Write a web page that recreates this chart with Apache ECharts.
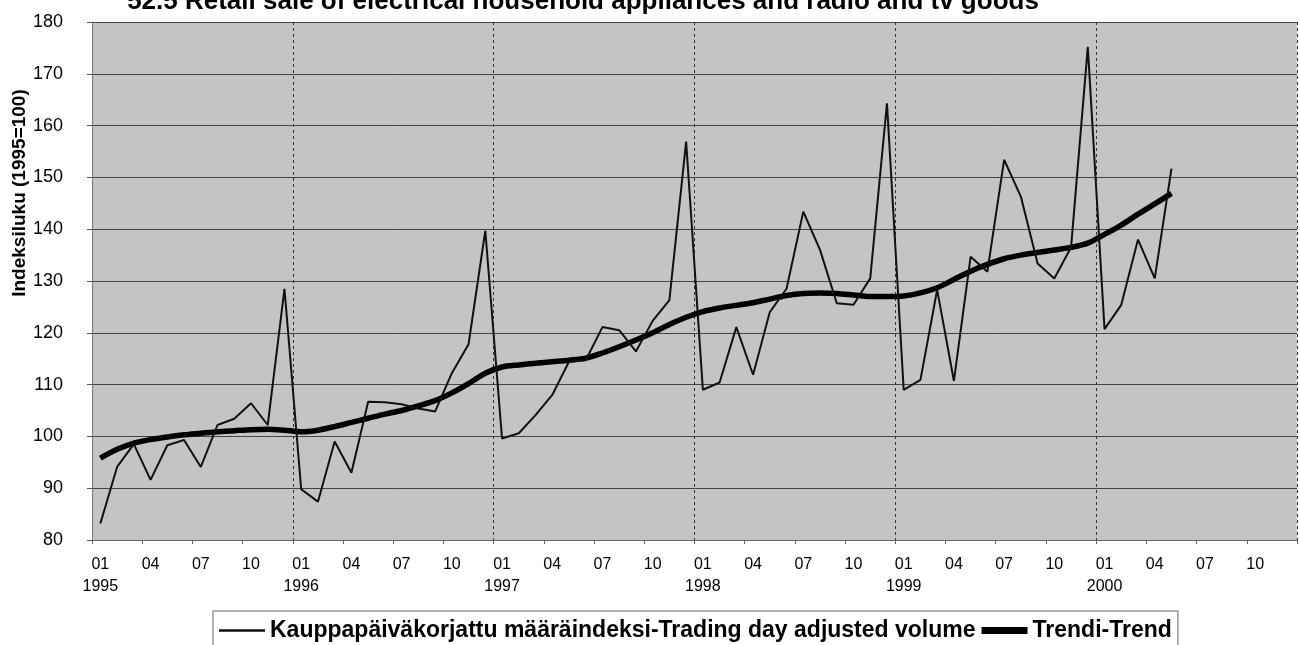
<!DOCTYPE html>
<html>
<head>
<meta charset="utf-8">
<script src="https://cdn.jsdelivr.net/npm/echarts@6/dist/echarts.min.js"></script>
<style>
html,body{margin:0;padding:0;background:#fff;}
#chart{width:1300px;height:645px;}
</style>
</head>
<body>
<div id="chart"></div>
<script>
// Months 1995-01 .. 2000-12
var years = [1995, 1996, 1997, 1998, 1999, 2000];
var monthLabels = ['01','02','03','04','05','06','07','08','09','10','11','12'];

// Trading day adjusted volume index (1995=100)
var volume = [
  83.2, 94.1, 98.5, 91.6, 98.3, 99.3, 94.1, 102.2, 103.4, 106.4, 102.2, 128.5,
  89.8, 87.4, 99.0, 93.0, 106.7, 106.6, 106.2, 105.4, 104.8, 112.2, 117.8, 139.7,
  99.6, 100.6, 104.1, 108.0, 114.4, 114.7, 121.1, 120.5, 116.4, 122.3, 126.3, 156.9,
  109.0, 110.4, 121.1, 111.9, 124.0, 128.5, 143.4, 136.0, 125.7, 125.4, 130.5, 164.3,
  109.0, 110.9, 128.3, 110.7, 134.7, 131.8, 153.4, 146.3, 133.4, 130.5, 136.5, 175.2,
  120.7, 125.4, 138.0, 130.5, 151.7
];

// Trend
var trend = [
  95.8, 97.5, 98.7, 99.4, 99.9, 100.3, 100.6, 100.9, 101.1, 101.3, 101.4, 101.2,
  100.9, 101.2, 101.9, 102.7, 103.5, 104.3, 105.0, 105.9, 106.9, 108.4, 110.2, 112.2,
  113.4, 113.8, 114.1, 114.4, 114.7, 115.1, 116.1, 117.3, 118.6, 120.0, 121.6, 123.0,
  124.1, 124.8, 125.3, 125.8, 126.5, 127.2, 127.6, 127.7, 127.6, 127.3, 127.0, 127.0,
  127.1, 127.7, 128.7, 130.3, 131.9, 133.2, 134.3, 135.0, 135.5, 136.0, 136.5, 137.3,
  139.0, 140.8, 142.9, 144.9, 146.9
];

var titleText = '52.5 Retail sale of electrical household appliances and radio and tv goods';
var yAxisTitle = 'Indeksiluku (1995=100)';
var seriesNames = ['Kauppapäiväkorjattu määräindeksi-Trading day adjusted volume', 'Trendi-Trend'];

var categories = [];
years.forEach(function (y) {
  monthLabels.forEach(function (m) { categories.push(y + '-' + m); });
});

var chart = echarts.init(document.getElementById('chart'), null, {renderer: 'canvas'});
var font = 'Arial, "Liberation Sans", Helvetica, sans-serif';

chart.setOption({
  animation: false,
  backgroundColor: '#ffffff',
  textStyle: {fontFamily: font},
  graphic: [
    {
      type: 'text', x: 583, y: -11,
      style: {text: titleText, font: 'bold 26px ' + font, fill: '#000', textAlign: 'center', textVerticalAlign: 'top'}
    },
    {
      type: 'text', x: 20, y: 193, rotation: Math.PI / 2,
      style: {text: yAxisTitle, font: 'bold 19px ' + font, fill: '#000', textAlign: 'center', textVerticalAlign: 'middle'}
    }
  ],
  grid: {
    left: 92, right: 3, top: 22, bottom: 105,
    show: true, backgroundColor: '#c4c4c4', borderWidth: 0
  },
  legend: {
    left: 213, top: 611,
    padding: [8, 6, 20, 6],
    borderColor: '#999', borderWidth: 1.5,
    itemGap: 6, itemWidth: 46, itemHeight: 14,
    textStyle: {fontSize: 23, fontWeight: 'bold', color: '#000', fontFamily: font},
    data: [
      {name: seriesNames[0], icon: 'path://M0,0 H40 V2 H0 Z'},
      {name: seriesNames[1], icon: 'path://M0,0 H40 V6 H0 Z'}
    ]
  },
  xAxis: {
    type: 'category',
    data: categories,
    boundaryGap: true,
    axisLine: {show: true, lineStyle: {color: '#666', width: 1}},
    axisTick: {show: true, interval: 2, length: 4, lineStyle: {color: '#666'}},
    axisLabel: {
      interval: 2, color: '#000', fontSize: 16, margin: 14, lineHeight: 22,
      formatter: function (v) {
        var p = v.split('-');
        return p[1] === '01' ? p[1] + '\n' + p[0] : p[1];
      }
    },
    splitLine: {
      show: true,
      interval: function (idx) { return idx % 12 === 0 && idx < 72; },
      lineStyle: {color: '#333', width: 1, type: [3, 3]}
    }
  },
  yAxis: {
    type: 'value', min: 80, max: 180, interval: 10,
    axisLine: {show: true, lineStyle: {color: '#777'}},
    axisTick: {show: true, length: 5, lineStyle: {color: '#555'}},
    axisLabel: {color: '#000', fontSize: 18, margin: 29},
    splitLine: {show: true, lineStyle: {color: '#444', width: 1}}
  },
  series: [
    {
      name: seriesNames[0], type: 'line', data: volume,
      symbol: 'none', showSymbol: false,
      lineStyle: {color: '#111', width: 2},
      itemStyle: {color: '#111'},
      z: 3
    },
    {
      name: seriesNames[1], type: 'line', data: trend,
      symbol: 'none', showSymbol: false, smooth: 0.3,
      lineStyle: {color: '#000', width: 5.5},
      itemStyle: {color: '#000'},
      z: 2
    }
  ]
});
</script>
</body>
</html>
